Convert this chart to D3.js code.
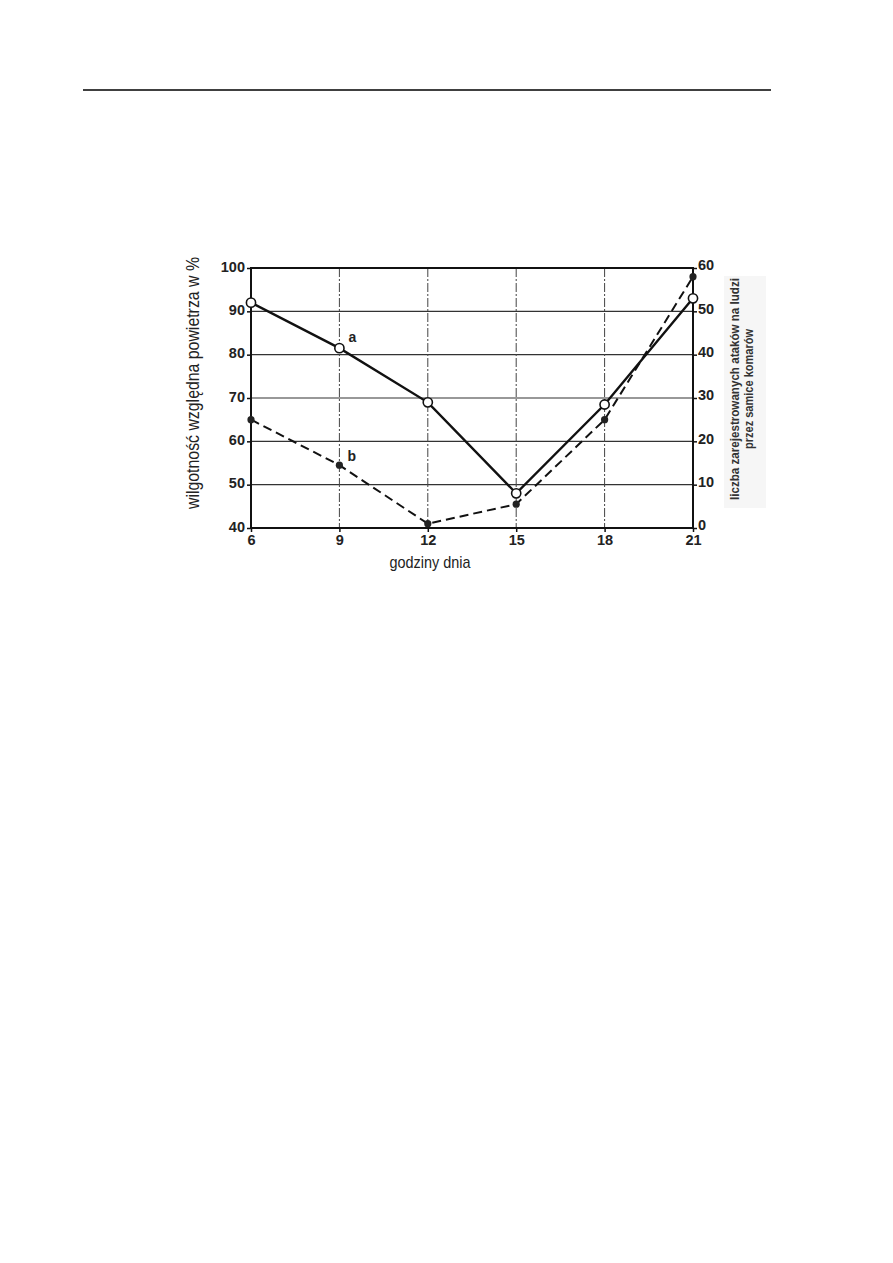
<!DOCTYPE html>
<html><head><meta charset="utf-8">
<script src="https://cdn.jsdelivr.net/npm/d3@7"></script>
<style>body{margin:0;background:#fff}</style>
</head><body>
<svg id="c" width="893" height="1263"></svg>
<script>
const hours = [6, 9, 12, 15, 18, 21];
const humidity = [92, 81.5, 69, 48, 68.5, 93];      // a, left axis (%)
const attacks = [25, 14.5, 1, 5.5, 25, 58];          // b, right axis (count)
const leftTicks = [40, 50, 60, 70, 80, 90, 100];
const rightTicks = [0, 10, 20, 30, 40, 50, 60];
const xLabel = "godziny dnia";
const yLabelLeft = "wilgotność względna powietrza w %";
const yLabelRight = ["liczba zarejestrowanych ataków na ludzi", "przez samice komarów"];

const svg = d3.select("#c");
const L = 251, R = 693, T = 268, B = 528;
const x = d3.scaleLinear().domain([6, 21]).range([L, R]);
const yL = d3.scaleLinear().domain([40, 100]).range([B, T]);
const yR = d3.scaleLinear().domain([0, 60]).range([B, T]);
const font = "'Liberation Sans',Arial,sans-serif";

// header rule
svg.append("line").attr("x1", 83).attr("x2", 771).attr("y1", 90).attr("y2", 90)
  .attr("stroke", "#000").attr("stroke-width", 1.3);

// light box behind right label
svg.append("rect").attr("x", 724).attr("y", 276).attr("width", 42).attr("height", 232).attr("fill", "#f6f6f6");

const g = svg.append("g");
// horizontal gridlines
g.selectAll(".hg").data(leftTicks.slice(1, -1)).join("line")
  .attr("x1", L).attr("x2", R).attr("y1", d => yL(d)).attr("y2", d => yL(d))
  .attr("stroke", "#333").attr("stroke-width", 1.2);
// vertical gridlines
g.selectAll(".vg").data(hours.slice(1, -1)).join("line")
  .attr("x1", d => x(d)).attr("x2", d => x(d)).attr("y1", T).attr("y2", B)
  .attr("stroke", "#444").attr("stroke-width", 1).attr("stroke-dasharray", "9,2,2,2");
// frame
g.append("rect").attr("x", L).attr("y", T).attr("width", R - L).attr("height", B - T)
  .attr("fill", "none").attr("stroke", "#111").attr("stroke-width", 2);

// axes
const axL = d3.axisLeft(yL).tickValues(leftTicks).tickSize(4).tickPadding(2);
const axR = d3.axisRight(yR).tickValues(rightTicks).tickSize(4).tickPadding(1);
const axB = d3.axisBottom(x).tickValues(hours).tickSize(4).tickPadding(3);
function styleAxis(sel) {
  sel.select(".domain").remove();
  sel.selectAll("line").attr("stroke", "#111").attr("stroke-width", 1.5);
  sel.selectAll("text").attr("font-family", font)
    .attr("font-size", 14.5).attr("font-weight", "bold").attr("fill", "#222");
}
svg.append("g").attr("transform", `translate(${L},0)`).call(axL).call(styleAxis)
  .selectAll("text").attr("dy", "0.22em");
svg.append("g").attr("transform", `translate(${R},0)`).call(axR).call(styleAxis)
  .selectAll("text").attr("dy", "0.12em");
svg.append("g").attr("transform", `translate(0,${B})`).call(axB).call(styleAxis);

// series b (dashed, filled dots) on right axis
const lineB = d3.line().x((d, i) => x(hours[i])).y(d => yR(d));
svg.append("path").datum(attacks).attr("d", lineB).attr("fill", "none")
  .attr("stroke", "#111").attr("stroke-width", 2).attr("stroke-dasharray", "9,5");
svg.selectAll(".pb").data(attacks).join("circle")
  .attr("cx", (d, i) => x(hours[i])).attr("cy", d => yR(d)).attr("r", 3.6).attr("fill", "#222");

// series a (solid, open circles) on left axis
const lineA = d3.line().x((d, i) => x(hours[i])).y(d => yL(d));
svg.append("path").datum(humidity).attr("d", lineA).attr("fill", "none")
  .attr("stroke", "#111").attr("stroke-width", 2.4);
svg.selectAll(".pa").data(humidity).join("circle")
  .attr("cx", (d, i) => x(hours[i])).attr("cy", d => yL(d)).attr("r", 4.6)
  .attr("fill", "#fff").attr("stroke", "#111").attr("stroke-width", 1.6);

// series labels
svg.append("text").attr("x", x(9) + 9).attr("y", yL(humidity[1]) - 6).text("a")
  .attr("font-family", font).attr("font-size", 14).attr("font-weight", "bold").attr("fill", "#222");
svg.append("text").attr("x", x(9) + 8).attr("y", yR(attacks[1]) - 4).text("b")
  .attr("font-family", font).attr("font-size", 14).attr("font-weight", "bold").attr("fill", "#222");

// axis titles
svg.append("text").attr("x", 430).attr("y", 568).attr("text-anchor", "middle").text(xLabel)
  .attr("font-family", font).attr("font-size", 17).attr("fill", "#222")
  .attr("textLength", 81).attr("lengthAdjust", "spacingAndGlyphs");
svg.append("text").attr("transform", "translate(199,383) rotate(-90)").attr("text-anchor", "middle")
  .text(yLabelLeft).attr("font-family", font).attr("font-size", 17.5).attr("fill", "#222")
  .attr("textLength", 252).attr("lengthAdjust", "spacingAndGlyphs");
const rLens = [222, 120];
yLabelRight.forEach((t, i) => {
  svg.append("text").attr("transform", `translate(${739 + i * 14},389) rotate(-90)`).attr("text-anchor", "middle")
    .text(t).attr("font-family", font).attr("font-size", 12.3)
    .attr("font-weight", "bold").attr("fill", "#333")
    .attr("textLength", rLens[i]).attr("lengthAdjust", "spacingAndGlyphs");
});
</script>
</body></html>
